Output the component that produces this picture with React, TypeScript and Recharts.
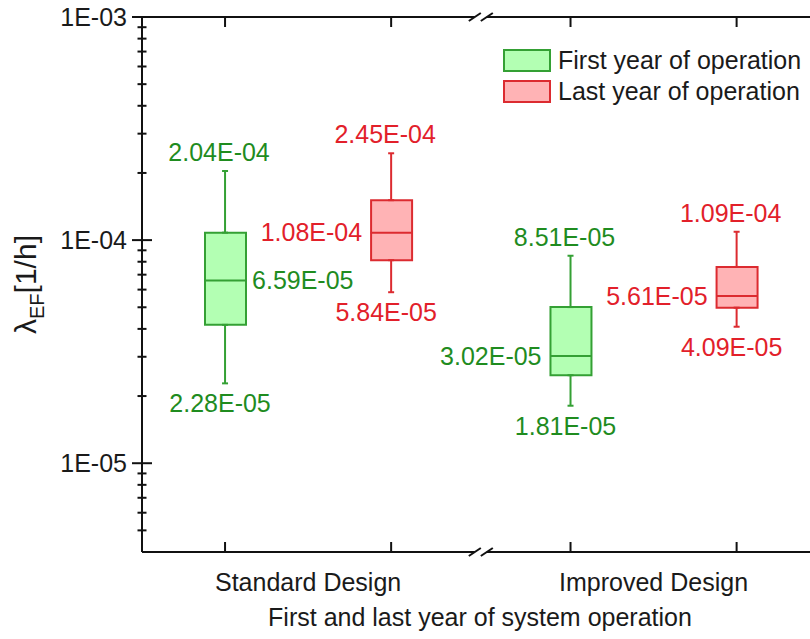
import { Bar, Cell, ComposedChart, ErrorBar, Label, Legend, ReferenceLine, Scatter, XAxis, YAxis } from 'recharts';

const FONT = '"Liberation Sans", Arial, Helvetica, sans-serif';

// x categories and series
const DESIGNS = ['Standard Design', 'Improved Design'];
const SERIES_NAMES = ['First year of operation', 'Last year of operation'];

// box statistics, one value per design [Standard, Improved]
const FIRST_MIN = [2.28e-5, 1.81e-5];
const FIRST_Q1 = [4.17e-5, 2.48e-5];
const FIRST_MEDIAN = [6.59e-5, 3.02e-5];
const FIRST_Q3 = [1.08e-4, 5.01e-5];
const FIRST_MAX = [2.04e-4, 8.51e-5];

const LAST_MIN = [5.84e-5, 4.09e-5];
const LAST_Q1 = [8.13e-5, 4.98e-5];
const LAST_MEDIAN = [1.08e-4, 5.61e-5];
const LAST_Q3 = [1.51e-4, 7.58e-5];
const LAST_MAX = [2.45e-4, 1.09e-4];

// y axis ticks
const Y_MAJOR_TICKS = [1e-5, 1e-4, 1e-3];
const Y_MINOR_TICKS = [
  5e-6, 6e-6, 7e-6, 8e-6, 9e-6,
  2e-5, 3e-5, 4e-5, 5e-5, 6e-5, 7e-5, 8e-5, 9e-5,
  2e-4, 3e-4, 4e-4, 5e-4, 6e-4, 7e-4, 8e-4, 9e-4,
];
const Y_DOMAIN = [4e-6, 1e-3];

// layout on the numeric x axis (slot per design: [first, last])
const SLOT_X = [
  [1, 2],
  [3.08, 4.08],
];
const X_DOMAIN = [0.5, 4.57];
const BREAK_X = (SLOT_X[0][1] + SLOT_X[1][0]) / 2;
const BREAK_GAP = 0.036;

const PLOT_TOP = 17;
const PLOT_BOTTOM = 552;

const COLORS = [
  { fill: '#b3ffb3', stroke: '#34a034', text: '#1f8c1f' },
  { fill: '#ffb3b5', stroke: '#dc2b30', text: '#e2202a' },
];

const BOX_PX = 41;
const HALF = BOX_PX / 2;

type Row = { x: number; series: number; design: number; min: number; q1: number; median: number; q3: number; max: number };

const makeRows = (series: number, mins: number[], q1s: number[], meds: number[], q3s: number[], maxs: number[]): Row[] =>
  DESIGNS.map((_, i) => ({
    x: SLOT_X[i][series],
    series,
    design: i,
    min: mins[i],
    q1: q1s[i],
    median: meds[i],
    q3: q3s[i],
    max: maxs[i],
  }));

const FIRST_ROWS = makeRows(0, FIRST_MIN, FIRST_Q1, FIRST_MEDIAN, FIRST_Q3, FIRST_MAX);
const LAST_ROWS = makeRows(1, LAST_MIN, LAST_Q1, LAST_MEDIAN, LAST_Q3, LAST_MAX);
const ALL_ROWS = [FIRST_ROWS[0], LAST_ROWS[0], FIRST_ROWS[1], LAST_ROWS[1]];

const BOX_TICKS = ALL_ROWS.map((r) => r.x);
const CATEGORY_X = SLOT_X.map((s) => (s[0] + s[1]) / 2);

function sci(v: number) {
  const [m, e] = v.toExponential(2).split('e');
  const n = Number(e);
  return `${m}E${n < 0 ? '-' : '+'}${String(Math.abs(n)).padStart(2, '0')}`;
}

function decade(v: number) {
  const n = Math.round(Math.log10(v));
  return `1E${n < 0 ? '-' : '+'}${String(Math.abs(n)).padStart(2, '0')}`;
}

const isMajor = (v: number) => Y_MAJOR_TICKS.some((t) => Math.abs(t - v) / t < 1e-6);

function YTick({ x, y, payload }: any) {
  const major = isMajor(payload.value);
  const len = major ? 10 : 4.5;
  return (
    <g>
      <line x1={x - len} x2={x + len} y1={y} y2={y} stroke="#111" strokeWidth={2} />
      {major && (
        <text x={x - 15} y={y} dy="0.35em" textAnchor="end" fontSize={25} fontFamily={FONT} fill="#1a1a1a">
          {decade(payload.value)}
        </text>
      )}
    </g>
  );
}

function TopTick({ x, y }: any) {
  return <line x1={x} x2={x} y1={y} y2={y + 10} stroke="#111" strokeWidth={2} />;
}

function BottomTick({ x, y, payload }: any) {
  const ci = CATEGORY_X.indexOf(payload.value);
  if (ci >= 0) {
    return (
      <text x={x} y={y + 38.7} textAnchor="middle" fontSize={25} fontFamily={FONT} fill="#1a1a1a">
        {DESIGNS[ci]}
      </text>
    );
  }
  return <line x1={x} x2={x} y1={y} y2={y - 10} stroke="#111" strokeWidth={2} />;
}

function XTitle({ viewBox }: any) {
  return (
    <text x={viewBox.x + viewBox.width / 2} y={viewBox.y + 73.7} textAnchor="middle" fontSize={25} fontFamily={FONT} fill="#1a1a1a">
      First and last year of system operation
    </text>
  );
}

function YTitle() {
  const cx = 36;
  const cy = (PLOT_TOP + PLOT_BOTTOM) / 2;
  return (
    <text x={cx} y={cy} transform={`rotate(-90, ${cx}, ${cy})`} textAnchor="middle" fontSize={30} fontFamily={FONT} fill="#1a1a1a">
      <tspan>λ</tspan>
      <tspan dy={8} fontSize={20}>EF</tspan>
      <tspan dy={-8}>[1/h]</tspan>
    </text>
  );
}

function BreakMarks(props: any) {
  const { x1, y1, y2 } = props;
  const top = Math.min(y1, y2);
  const bottom = Math.max(y1, y2);
  return (
    <g>
      {[top, bottom].map((yy) =>
        [-6, 6].map((dx) => (
          <line key={`${yy}-${dx}`} x1={x1 + dx - 6} y1={yy + 4} x2={x1 + dx + 6} y2={yy - 4} stroke="#111" strokeWidth={2} />
        ))
      )}
    </g>
  );
}

const medianShape = (series: number) => (props: any) => {
  const { cx, cy, payload } = props;
  const c = COLORS[series];
  const right = series === 0 && payload.design === 0;
  return (
    <g>
      <line x1={cx - HALF} x2={cx + HALF} y1={cy} y2={cy} stroke={c.stroke} strokeWidth={2} />
      <text
        x={right ? cx + 27 : cx - 29}
        y={cy}
        dy="0.35em"
        textAnchor={right ? 'start' : 'end'}
        fontSize={25}
        fontFamily={FONT}
        fill={c.text}
      >
        {sci(payload.median)}
      </text>
    </g>
  );
};

const maxShape = (series: number) => (props: any) => {
  const { cx, cy, payload } = props;
  return (
    <text x={cx - 6} y={cy - 10} textAnchor="middle" fontSize={25} fontFamily={FONT} fill={COLORS[series].text}>
      {sci(payload.max)}
    </text>
  );
};

const minShape = (series: number) => (props: any) => {
  const { cx, cy, payload } = props;
  return (
    <text x={cx - 5} y={cy + 29} textAnchor="middle" fontSize={25} fontFamily={FONT} fill={COLORS[series].text}>
      {sci(payload.min)}
    </text>
  );
};

function LegendContent() {
  return (
    <div style={{ fontFamily: FONT, fontSize: 25, color: '#1a1a1a' }}>
      {SERIES_NAMES.map((name, i) => (
        <div key={name} style={{ display: 'flex', alignItems: 'center', height: 31 }}>
          <span
            style={{
              display: 'inline-block',
              width: 44,
              height: 19,
              border: `2px solid ${COLORS[i].stroke}`,
              background: COLORS[i].fill,
              marginRight: 7,
            }}
          />
          <span style={{ whiteSpace: 'nowrap', lineHeight: '31px' }}>{name}</span>
        </div>
      ))}
    </div>
  );
}

function seriesMarks(rows: Row[], series: number) {
  const c = COLORS[series];
  return [
    <Scatter key={`max${series}`} data={rows} dataKey="max" shape={maxShape(series)} isAnimationActive={false}>
      <ErrorBar dataKey={(r: Row) => [r.max - r.q3, 0]} direction="y" width={3} stroke={c.stroke} strokeWidth={2} isAnimationActive={false} />
    </Scatter>,
    <Scatter key={`min${series}`} data={rows} dataKey="min" shape={minShape(series)} isAnimationActive={false}>
      <ErrorBar dataKey={(r: Row) => [0, r.q1 - r.min]} direction="y" width={3} stroke={c.stroke} strokeWidth={2} isAnimationActive={false} />
    </Scatter>,
    <Scatter key={`med${series}`} data={rows} dataKey="median" shape={medianShape(series)} isAnimationActive={false} />,
  ];
}

export default function App() {
  return (
    <div style={{ position: 'fixed', left: 0, top: 0, width: 810, height: 639, overflow: 'hidden', background: '#fff', fontFamily: FONT }}>
      <ComposedChart width={830} height={639} data={ALL_ROWS} margin={{ top: 0, right: 12, bottom: 0, left: 0 }}>
        <XAxis
          xAxisId="top"
          orientation="top"
          type="number"
          dataKey="x"
          domain={X_DOMAIN}
          allowDataOverflow
          ticks={BOX_TICKS}
          interval={0}
          height={PLOT_TOP}
          axisLine={false}
          tickLine={false}
          tickSize={0}
          tickMargin={0}
          tick={<TopTick />}
        />
        <XAxis
          type="number"
          dataKey="x"
          domain={X_DOMAIN}
          allowDataOverflow
          ticks={[...BOX_TICKS, ...CATEGORY_X]}
          interval={0}
          height={639 - PLOT_BOTTOM}
          axisLine={false}
          tickLine={false}
          tickSize={0}
          tickMargin={0}
          tick={<BottomTick />}
        >
          <Label content={XTitle} />
        </XAxis>
        <YAxis
          type="number"
          scale="log"
          domain={Y_DOMAIN}
          allowDataOverflow
          ticks={[...Y_MAJOR_TICKS, ...Y_MINOR_TICKS]}
          interval={0}
          width={142}
          axisLine={{ stroke: '#111', strokeWidth: 2 }}
          tickLine={false}
          tickSize={0}
          tickMargin={0}
          tick={<YTick />}
        >
          <Label content={YTitle} />
        </YAxis>

        {/* top and bottom frame lines, broken at BREAK_X */}
        {[Y_DOMAIN[0], Y_DOMAIN[1]].map((yv) => [
          <ReferenceLine
            key={`l${yv}`}
            segment={[{ x: X_DOMAIN[0], y: yv }, { x: BREAK_X - BREAK_GAP, y: yv }]}
            stroke="#111"
            strokeWidth={2}
            ifOverflow="visible"
          />,
          <ReferenceLine
            key={`r${yv}`}
            segment={[{ x: BREAK_X + BREAK_GAP, y: yv }, { x: X_DOMAIN[1], y: yv }]}
            stroke="#111"
            strokeWidth={2}
            ifOverflow="visible"
          />,
        ])}
        <ReferenceLine x={BREAK_X} ifOverflow="visible" shape={<BreakMarks />} />

        <Bar dataKey={(r: Row) => [r.q1, r.q3]} barSize={BOX_PX} isAnimationActive={false}>
          {ALL_ROWS.map((r, i) => (
            <Cell key={i} fill={COLORS[r.series].fill} stroke={COLORS[r.series].stroke} strokeWidth={2} />
          ))}
        </Bar>

        {seriesMarks(FIRST_ROWS, 0)}
        {seriesMarks(LAST_ROWS, 1)}

        <Legend
          layout="vertical"
          align="center"
          verticalAlign="middle"
          wrapperStyle={{ top: 45, left: 503, width: 320, height: 62 }}
          content={<LegendContent />}
        />
      </ComposedChart>
    </div>
  );
}
